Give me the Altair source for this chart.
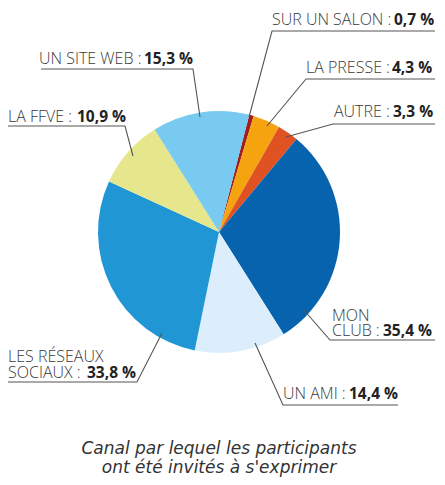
import math
import altair as alt
import pandas as pd

# ---- data ----
categories = ["SUR UN SALON", "LA PRESSE", "AUTRE", "MON CLUB", "UN AMI",
              "LES RÉSEAUX SOCIAUX", "LA FFVE", "UN SITE WEB"]
values = [0.7, 4.3, 3.3, 35.4, 14.4, 33.8, 10.9, 15.3]
value_labels = ["0,7 %", "4,3 %", "3,3 %", "35,4 %", "14,4 %", "33,8 %", "10,9 %", "15,3 %"]
colors = ["#a01e1e", "#f5a40f", "#e05222", "#0763ae", "#dceefb", "#2196d5", "#e6e68c", "#78caf1"]
title_lines = ["Canal par lequel les participants", "ont été invités à s'exprimer"]

# ---- layout (reference pixel coordinates) ----
OFF = 8
W, H = 429, 469
CX, CY, R = 219 - OFF, 232 - OFF, 121
START = math.radians(14.5)

# label text pieces: (category index, text, x, baseline y, bold)
label_layout = [
    (0, "SUR UN SALON :", 272, 25, False), (0, None, 394, 25, True),
    (1, "LA PRESSE :", 306, 73, False), (1, None, 392, 73, True),
    (2, "AUTRE :", 334, 117, False), (2, None, 393, 117, True),
    (3, "MON", 332, 321, False), (3, "CLUB :", 332, 336, False), (3, None, 383, 336, True),
    (4, "UN AMI :", 283, 399, False), (4, None, 349, 399, True),
    (5, "LES RÉSEAUX", 8, 362, False), (5, "SOCIAUX :", 8, 378, False), (5, None, 87, 378, True),
    (6, "LA FFVE :", 8, 122, False), (6, None, 77, 122, True),
    (7, "UN SITE WEB :", 39, 64, False), (7, None, 144, 64, True),
]
# leader polylines: slice point -> elbow -> underline end
leader_layout = [
    [(249, 117), (272, 31), (435, 31)],
    [(267, 126), (306, 79), (435, 79)],
    [(286, 137), (333, 124), (435, 124)],
    [(303, 309), (330, 340), (435, 340)],
    [(255, 343), (283, 405), (398, 405)],
    [(162, 333), (137, 382), (8, 382)],
    [(133, 156), (125, 126), (8, 126)],
    [(200, 117), (193, 69), (41, 69)],
]

pie_df = pd.DataFrame({"cat": categories, "value": values, "order": list(range(len(values))),
                       "color": colors})

txt_rows = []
for i, t, x, y, b in label_layout:
    txt_rows.append({"cat": categories[i], "text": t if t is not None else value_labels[i],
                     "px": x - OFF, "py": y - OFF, "bold": b})
txt_df = pd.DataFrame(txt_rows)

line_rows = []
for i, pts in enumerate(leader_layout):
    for k, (x, y) in enumerate(pts):
        line_rows.append({"cat": categories[i], "k": k, "px": x - OFF, "py": y - OFF})
line_df = pd.DataFrame(line_rows)

title_df = pd.DataFrame({"text": title_lines, "px": [219 - OFF] * 2, "py": [454 - OFF, 473 - OFF]})

xs = alt.Scale(domain=[0, W], range=[0, W])
ys = alt.Scale(domain=[0, H], range=[0, H])

pie = alt.Chart(pie_df).mark_arc(outerRadius=R, stroke=None).encode(
    theta=alt.Theta("value:Q", stack=True, scale=alt.Scale(range=[START, START + 2 * math.pi])),
    color=alt.Color("color:N", scale=None),
    order=alt.Order("order:Q"),
    x=alt.value(CX),
    y=alt.value(CY),
)

leaders = alt.Chart(line_df).mark_line(color="#555555", strokeWidth=1.1).encode(
    x=alt.X("px:Q", scale=xs, axis=None),
    y=alt.Y("py:Q", scale=ys, axis=None),
    detail="cat:N",
    order="k:Q",
)

FONT = "Open Sans"
normal_txt = alt.Chart(txt_df).transform_filter("!datum.bold").mark_text(
    align="left", baseline="alphabetic", font=FONT, fontSize=16, fontWeight=300, color="#3a3a3a"
).encode(x=alt.X("px:Q", scale=xs, axis=None), y=alt.Y("py:Q", scale=ys, axis=None), text="text:N")

bold_txt = alt.Chart(txt_df).transform_filter("datum.bold").mark_text(
    align="left", baseline="alphabetic", font=FONT, fontSize=15.5, fontWeight="bold", color="#222222"
).encode(x=alt.X("px:Q", scale=xs, axis=None), y=alt.Y("py:Q", scale=ys, axis=None), text="text:N")

title = alt.Chart(title_df).mark_text(
    align="center", baseline="alphabetic", font="DejaVu Sans", fontSize=17, fontStyle="italic",
    fontWeight=300, color="#333333"
).encode(x=alt.X("px:Q", scale=xs, axis=None), y=alt.Y("py:Q", scale=ys, axis=None), text="text:N")

chart = alt.layer(pie, leaders, normal_txt, bold_txt, title).properties(
    width=W, height=H, padding=0, autosize=alt.AutoSizeParams(type="none")
).configure_view(stroke=None)

chart.save("out.html", embed_options={"renderer": "svg", "actions": False})
